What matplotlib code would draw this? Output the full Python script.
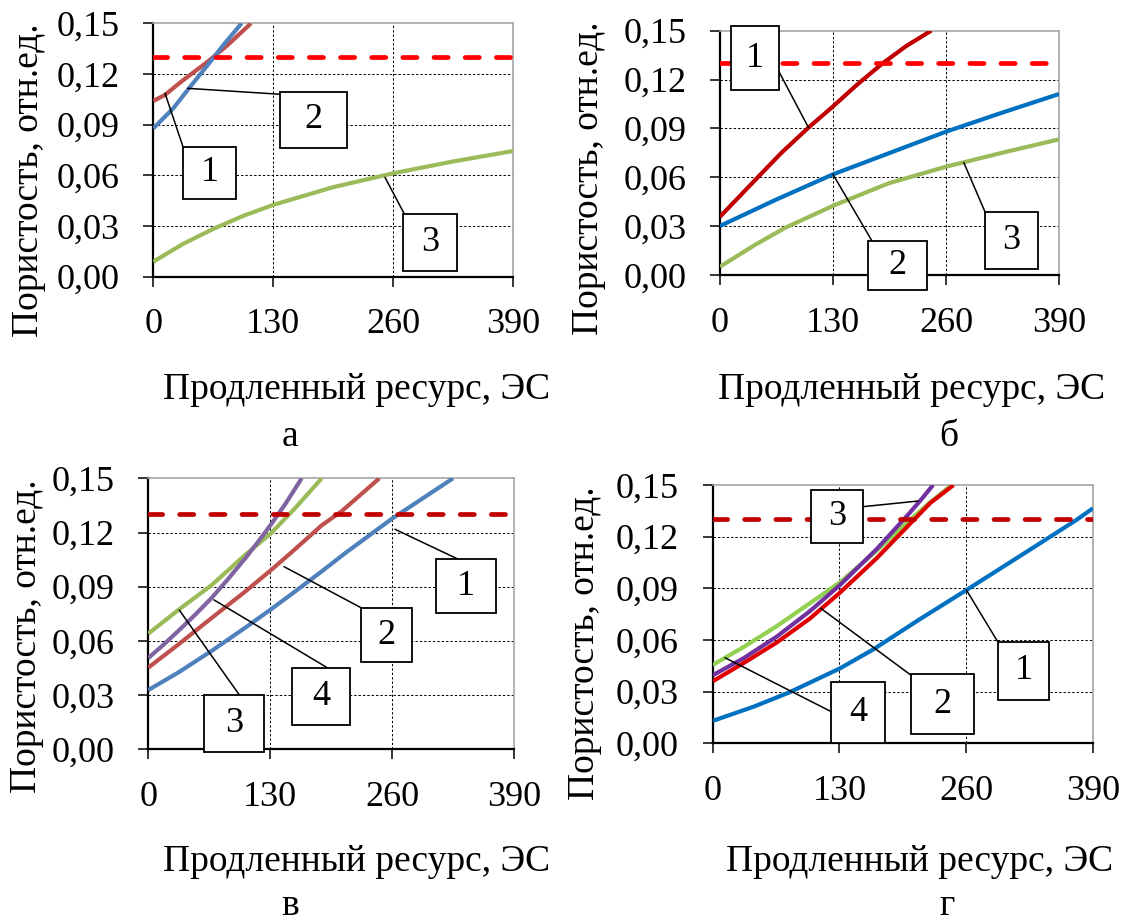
import matplotlib
matplotlib.use("Agg")
import matplotlib.pyplot as plt
from matplotlib.patches import Rectangle

plt.rcParams['font.family'] = ['Liberation Serif', 'DejaVu Serif']

W, H = 1125, 923

# ---------------- shared axis data ----------------
x_ticks = [0, 130, 260, 390]
y_ticks = [0.00, 0.03, 0.06, 0.09, 0.12, 0.15]
y_tick_labels = ['0,00', '0,03', '0,06', '0,09', '0,12', '0,15']
limit_porosity = 0.13
x_label = 'Продленный ресурс, ЭС'
y_label = 'Пористость, отн.ед.'
panel_letters = ['а', 'б', 'в', 'г']

# ---------------- panel а ----------------
a1_x = [0, 12.6, 32.5, 57.8, 79.4, 106]
a1_y = [0.104, 0.1076, 0.1164, 0.1268, 0.1365, 0.150]
a2_x = [0, 21.7, 37.9, 57.8, 75.8, 95.7]
a2_y = [0.0878, 0.0997, 0.111, 0.1245, 0.137, 0.150]
a3_x = [0, 32.5, 65, 97.5, 130, 195, 260, 325, 390]
a3_y = [0.0089, 0.0195, 0.0283, 0.036, 0.0425, 0.053, 0.0612, 0.0682, 0.0744]

# ---------------- panel б ----------------
b1_x = [0, 44.2, 71, 101.8, 130, 158, 186, 214, 243]
b1_y = [0.0358, 0.0604, 0.0752, 0.0905, 0.1035, 0.117, 0.1295, 0.1405, 0.150]
b2_x = [0, 63.4, 130, 194, 260, 324.7, 390]
b2_y = [0.0301, 0.046, 0.0618, 0.0747, 0.088, 0.0997, 0.1111]
b3_x = [0, 40.3, 75, 130, 194, 260, 325, 390]
b3_y = [0.0051, 0.0185, 0.029, 0.0425, 0.0563, 0.0665, 0.0751, 0.0833]

# ---------------- panel в ----------------
c1_x = [0, 32, 67.6, 103.1, 130.9, 156.4, 185, 209.8, 259.5, 325]
c1_y = [0.0328, 0.0425, 0.0545, 0.0672, 0.0775, 0.0873, 0.0985, 0.1085, 0.1275, 0.150]
c2_x = [0, 32, 67.6, 103.1, 130.9, 156.4, 185, 206.3, 246.4]
c2_y = [0.0452, 0.058, 0.0727, 0.0872, 0.0992, 0.1107, 0.124, 0.1318, 0.150]
c3_x = [0, 32, 67.6, 103.1, 130.9, 156.4, 185]
c3_y = [0.064, 0.0771, 0.0909, 0.1075, 0.1196, 0.1334, 0.150]
c4_x = [0, 16, 32, 50, 67.6, 85, 103.1, 117, 130.9, 145.8, 163.6]
c4_y = [0.0505, 0.0578, 0.0655, 0.0745, 0.0838, 0.0942, 0.1055, 0.1148, 0.1245, 0.1355, 0.150]

# ---------------- panel г ----------------
d1_x = [0, 41.7, 77.5, 130.5, 164.6, 210, 260.2, 320, 373, 390]
d1_y = [0.013, 0.0212, 0.0293, 0.0435, 0.0545, 0.0712, 0.089, 0.1105, 0.1297, 0.1365]
d2_x = [0, 31.4, 65.6, 99.8, 130.5, 168.2, 199, 223, 247]
d2_y = [0.036, 0.0465, 0.0585, 0.0725, 0.0875, 0.1075, 0.1255, 0.1395, 0.150]
d3_x = [0, 31.4, 65.6, 99.8, 130.5, 168.2, 199, 222, 245]
d3_y = [0.0455, 0.0558, 0.068, 0.0814, 0.0935, 0.1118, 0.128, 0.1395, 0.150]
d4_x = [0, 31.4, 65.6, 99.8, 130.5, 168.2, 199, 213, 226]
d4_y = [0.0395, 0.0493, 0.0619, 0.0768, 0.0919, 0.1128, 0.1319, 0.141, 0.150]


def px_rect(l, t, r, b):
    return [l / W, 1 - b / H, (r - l) / W, (b - t) / H]


panels = [
    dict(rect=px_rect(153.3, 23.3, 513, 276.7), limit_color='#FF0000',
         series=[(a1_x, a1_y, '#C0504D'), (a2_x, a2_y, '#4F81BD'), (a3_x, a3_y, '#9BBB59')],
         labels=[('1', (12.7, 0.1086), (0.0823, 0.5138), (0.0823, 0.3058, 0.2296, 0.5138)),
                 ('2', (37.3, 0.1115), (0.352, 0.72), (0.352, 0.5083, 0.5386, 0.73)),
                 ('3', (251.2, 0.0588), (0.698, 0.2474), (0.6942, 0.0237, 0.8443, 0.2474))],
         ylab=(28.7, 180), xlab=(357, 390), letter=(290, 437)),
    dict(rect=px_rect(720, 30.7, 1059, 275), limit_color='#FF0000',
         series=[(b1_x, b1_y, '#C00000'), (b2_x, b2_y, '#0070C0'), (b3_x, b3_y, '#9BBB59')],
         labels=[('1', (101.8, 0.0905), (0.174, 0.832), (0.0324, 0.757, 0.174, 1.019)),
                 ('2', (130, 0.0618), (0.4484, 0.1392), (0.4366, -0.0614, 0.6106, 0.1392)),
                 ('3', (280.5, 0.069), (0.7817, 0.2586), (0.7817, 0.0266, 0.939, 0.2586))],
         ylab=(589, 178), xlab=(912, 390), letter=(949, 437)),
    dict(rect=px_rect(148.3, 478.3, 514, 749.3), limit_color='#C00000',
         series=[(c1_x, c1_y, '#4F81BD'), (c2_x, c2_y, '#C0504D'), (c3_x, c3_y, '#9BBB59'),
                 (c4_x, c4_y, '#8064A2')],
         labels=[('1', (263, 0.1218), (0.848, 0.701), (0.786, 0.502, 0.951, 0.701)),
                 ('2', (144.7, 0.1011), (0.5816, 0.5225), (0.5816, 0.321, 0.7203, 0.5225)),
                 ('4', (70, 0.0827), (0.492, 0.2989), (0.392, 0.0897, 0.5515, 0.2989)),
                 ('3', (33, 0.0771), (0.249, 0.2004), (0.153, -0.0089, 0.3164, 0.2004))],
         ylab=(27, 636), xlab=(357, 862), letter=(290, 906)),
    dict(rect=px_rect(712.7, 485, 1093, 743.3), limit_color='#C00000',
         series=[(d1_x, d1_y, '#0070C0'), (d3_x, d3_y, '#92D050'), (d4_x, d4_y, '#7030A0'),
                 (d2_x, d2_y, '#E00000')],
         labels=[('3', (210.8, 0.1407), (0.3944, 0.916), (0.2585, 0.7743, 0.3944, 0.98)),
                 ('4', (12.6, 0.0497), (0.3084, 0.125), (0.311, 0.0, 0.453, 0.2385)),
                 ('2', (110.8, 0.0784), (0.5206, 0.2644), (0.5206, 0.0348, 0.6871, 0.2671)),
                 ('1', (260.2, 0.089), (0.7494, 0.3933), (0.7494, 0.1676, 0.885, 0.3933))],
         ylab=(585, 643), xlab=(920, 862), letter=(947, 906)),
]

fig = plt.figure(figsize=(W / 100, H / 100), dpi=100)

for i, p in enumerate(panels):
    ax = fig.add_axes(p['rect'])
    ax.set_xlim(x_ticks[0], x_ticks[-1])
    ax.set_ylim(y_ticks[0], y_ticks[-1])
    ax.set_xticks(x_ticks)
    ax.set_xticklabels([str(t) for t in x_ticks])
    ax.set_yticks(y_ticks)
    ax.set_yticklabels(y_tick_labels)
    ax.tick_params(direction='out', length=7.2, width=1.1, labelsize=26, colors='black')
    ax.tick_params(axis='y', pad=17)
    ax.tick_params(axis='x', pad=15.5)
    for s in ['top', 'right']:
        ax.spines[s].set_color('#A6A6A6')
        ax.spines[s].set_linewidth(1.2)
    for s in ['left', 'bottom']:
        ax.spines[s].set_color('black')
        ax.spines[s].set_linewidth(1.6)
    # inner grid lines
    for xt in x_ticks[1:-1]:
        ax.axvline(xt, color='black', lw=0.7, ls=(0, (2.5, 2)), zorder=1)
    for yt in y_ticks[1:-1]:
        ax.axhline(yt, color='black', lw=0.7, ls=(0, (2.5, 2)), zorder=1)

    for xs, ys, col in p['series']:
        ax.plot(xs, ys, color=col, lw=3.0, solid_capstyle='butt',
                solid_joinstyle='round', zorder=3)

    ax.axhline(limit_porosity, color=p['limit_color'], lw=3.4, ls=(0, (3.0, 3.6)),
               dash_capstyle='round', zorder=4)

    for txt, pt, anchor, box in p['labels']:
        ax.annotate('', xy=pt, xycoords='data', xytext=anchor, textcoords='axes fraction',
                    arrowprops=dict(arrowstyle='-', lw=1.1, color='black',
                                    shrinkA=0, shrinkB=0), zorder=5, annotation_clip=False)
        x0, y0, x1, y1 = box
        ax.add_patch(Rectangle((x0, y0), x1 - x0, y1 - y0, transform=ax.transAxes,
                               facecolor='white', edgecolor='black', lw=1.3,
                               clip_on=False, zorder=6))
        ax.text((x0 + x1) / 2, (y0 + y1) / 2, txt, transform=ax.transAxes,
                ha='center', va='center', fontsize=26, zorder=7, clip_on=False)

    yx, yy = p['ylab']
    fig.text(yx / W, 1 - yy / H, y_label, rotation=90, ha='center', va='center', fontsize=27)
    xx, xy = p['xlab']
    fig.text(xx / W, 1 - xy / H, x_label, ha='center', va='center', fontsize=27)
    lx, ly = p['letter']
    fig.text(lx / W, 1 - ly / H, panel_letters[i], ha='center', va='center', fontsize=27)

fig.savefig('out.png', dpi=100)
